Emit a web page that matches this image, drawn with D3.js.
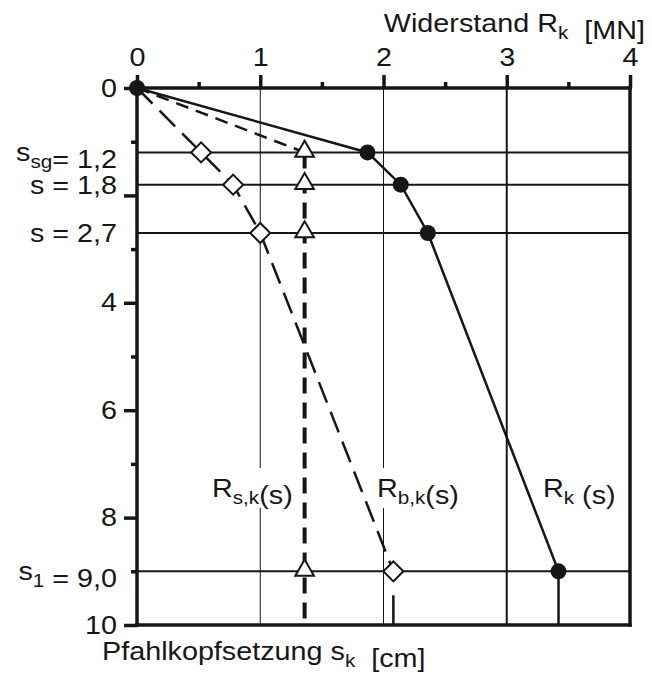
<!DOCTYPE html>
<html>
<head>
<meta charset="utf-8">
<script src="https://cdn.jsdelivr.net/npm/d3@7"></script>
<style>
  body { margin: 0; background: #fff; }
  svg { display: block; font-family: "Liberation Sans", Arial, sans-serif; }
</style>
</head>
<body>
<svg width="652" height="677"></svg>
<script>
// settlement levels s [cm] and resistances [MN]
var settlements = [0, 1.2, 1.8, 2.7, 9.0];
var rk  = [0, 1.87, 2.14, 2.36, 3.42];
var rbk = [0, 0.52, 0.78, 1.0, 2.08];
var rsk = [0, 1.36, 1.36, 1.36, 1.36];

var xTicks = [0, 1, 2, 3, 4];
var xMinor = [0.5, 1.5, 2.5, 3.5];
var yTicks = [0, 2, 4, 6, 8, 10];
var yTickLabels = ["0", "", "4", "6", "8", "10"];
var yMinor = [1, 3, 5, 7, 9];
var xGrid = [1, 2, 3];

// labels of the settlement levels: main, subscript, rest
var levelMain = ["s", "s", "s", "s"];
var levelSub  = ["sg", "", "", "1"];
var levelRest = ["= 1,2", " = 1,8", " = 2,7", " = 9,0"];

var svg = d3.select("svg");
var ink = "#161616";
var fs = 25;
var sx = 1.15; // the original type is set wide

var x = d3.scaleLinear().domain([0, 4]).range([137, 630]);
var y = d3.scaleLinear().domain([0, 10]).range([88, 625]);

// helper for wide text with optional subscripts
function label(px, py, parts, anchor) {
  var g = svg.append("g").attr("transform", "translate(" + px + "," + py + ") scale(" + sx + ",1)");
  var t = g.append("text").attr("text-anchor", anchor).attr("fill", ink).attr("font-size", fs);
  parts.forEach(function(p) {
    if (p.sub) {
      t.append("tspan").attr("font-size", fs * 0.72).attr("dy", 7).text(p.sub);
      t.append("tspan").attr("dy", -7).text("");
    } else {
      t.append("tspan").text(p.t);
    }
  });
  return g;
}

// vertical grid lines
svg.selectAll("line.grid").data(xGrid).enter().append("line")
  .attr("class", "grid")
  .attr("x1", function(d) { return x(d); }).attr("x2", function(d) { return x(d); })
  .attr("y1", y(0)).attr("y2", y(10))
  .attr("stroke", ink)
  .attr("stroke-width", function(d) { return d === 3 ? 2 : 1; });

// white boxes behind inner labels
[[208, 90], [373, 94]].forEach(function(b) {
  svg.append("rect").attr("x", b[0]).attr("y", 468).attr("width", b[1]).attr("height", 40).attr("fill", "#fff");
});

// horizontal level lines
svg.selectAll("line.level").data(settlements.slice(1)).enter().append("line")
  .attr("class", "level")
  .attr("x1", x(0)).attr("x2", x(4))
  .attr("y1", function(d) { return y(d); }).attr("y2", function(d) { return y(d); })
  .attr("stroke", ink).attr("stroke-width", 2);

var line = d3.line()
  .x(function(d) { return x(d[0]); })
  .y(function(d) { return y(d[1]); });

function pts(arr) { return arr.map(function(v, i) { return [v, settlements[i]]; }); }

// R_s,k : dashed to the first level, then a heavy dashed vertical
svg.append("path").attr("d", line(pts(rsk).slice(0, 2)))
  .attr("fill", "none").attr("stroke", ink).attr("stroke-width", 2.5)
  .attr("stroke-dasharray", "13,8");
svg.append("path").attr("d", line([[rsk[1], settlements[1]], [rsk[4], 10]]))
  .attr("fill", "none").attr("stroke", ink).attr("stroke-width", 4)
  .attr("stroke-dasharray", "16,9");

// R_b,k : long dashes
svg.append("path").attr("d", line(pts(rbk)))
  .attr("fill", "none").attr("stroke", ink).attr("stroke-width", 2.5)
  .attr("stroke-dasharray", "22,10");
svg.append("path").attr("d", line([[rbk[4], settlements[4]], [rbk[4], 10]]))
  .attr("fill", "none").attr("stroke", ink).attr("stroke-width", 2.5)
  .attr("stroke-dasharray", "0,24,40");

// R_k : solid
svg.append("path").attr("d", line(pts(rk)))
  .attr("fill", "none").attr("stroke", ink).attr("stroke-width", 2.5);
svg.append("path").attr("d", line([[rk[4], settlements[4]], [rk[4], 10]]))
  .attr("fill", "none").attr("stroke", ink).attr("stroke-width", 2.5);

// frame and axes
svg.append("g").attr("transform", "translate(0," + y(0) + ")")
  .call(d3.axisTop(x).tickValues(xTicks).tickSize(13).tickSizeOuter(0).tickPadding(9).tickFormat(d3.format("d")));
svg.append("g").attr("transform", "translate(0," + y(0) + ")")
  .call(d3.axisTop(x).tickValues(xMinor).tickSize(6).tickFormat(""));
var gLeft = svg.append("g").attr("transform", "translate(" + x(0) + ",0)")
  .call(d3.axisLeft(y).tickValues(yTicks).tickSize(13).tickSizeOuter(0).tickPadding(7)
    .tickFormat(function(d, i) { return yTickLabels[i]; }));
svg.append("g").attr("transform", "translate(" + x(0) + ",0)")
  .call(d3.axisLeft(y).tickValues(yMinor).tickSize(6).tickFormat(""));

svg.selectAll(".domain").remove();
svg.selectAll(".tick line").attr("stroke", ink).attr("stroke-width", 3.5);
svg.selectAll(".tick text")
  .attr("font-size", fs).attr("fill", ink)
  .attr("font-family", "Liberation Sans, Arial, sans-serif")
  .attr("transform", "scale(" + sx + ",1)");
gLeft.selectAll(".tick text").attr("x", -20 / sx);

[[x(0), y(0), x(4), y(0)], [x(0), y(0), x(0), y(10)], [x(4), y(0), x(4), y(10)], [x(0), y(10), x(4), y(10)]]
  .forEach(function(l) {
    svg.append("line").attr("x1", l[0]).attr("y1", l[1]).attr("x2", l[2]).attr("y2", l[3])
      .attr("stroke", ink).attr("stroke-width", 3.5).attr("stroke-linecap", "square");
  });

// markers
var tri = d3.symbol().type(d3.symbolTriangle).size(150);
var sq = d3.symbol().type(d3.symbolSquare).size(200);

svg.selectAll("path.tri").data(pts(rsk).slice(1)).enter().append("path")
  .attr("class", "tri").attr("d", tri)
  .attr("transform", function(d) { return "translate(" + x(d[0]) + "," + (y(d[1]) - 1) + ")"; })
  .attr("fill", "#fff").attr("stroke", ink).attr("stroke-width", 2);

svg.selectAll("path.dia").data(pts(rbk).slice(1)).enter().append("path")
  .attr("class", "dia").attr("d", sq)
  .attr("transform", function(d) { return "translate(" + x(d[0]) + "," + y(d[1]) + ") rotate(45)"; })
  .attr("fill", "#fff").attr("stroke", ink).attr("stroke-width", 2);

svg.selectAll("circle.rk").data(pts(rk)).enter().append("circle")
  .attr("class", "rk").attr("r", 8)
  .attr("cx", function(d) { return x(d[0]); }).attr("cy", function(d) { return y(d[1]); })
  .attr("fill", ink);

// level labels on the left
settlements.slice(1).forEach(function(s, i) {
  var parts = [{ t: levelMain[i] }];
  if (levelSub[i]) parts.push({ sub: levelSub[i] });
  parts.push({ t: levelRest[i] });
  label(117, y(s) + 9, parts, "end");
});

// axis titles
label(645, 32, [{ t: "Widerstand R" }, { sub: "k" }, { t: "\u00a0\u00a0[MN]" }], "end");
label(102, 660, [{ t: "Pfahlkopfsetzung s" }, { sub: "k" }, { t: "\u00a0\u00a0[cm]" }], "start");

// series labels
label(212, 497, [{ t: "R" }, { sub: "s,k" }, { t: "(s)" }], "start");
label(377, 497, [{ t: "R" }, { sub: "b,k" }, { t: "(s)" }], "start");
label(543, 497, [{ t: "R" }, { sub: "k" }, { t: "\u00a0(s)" }], "start");
</script>
</body>
</html>
